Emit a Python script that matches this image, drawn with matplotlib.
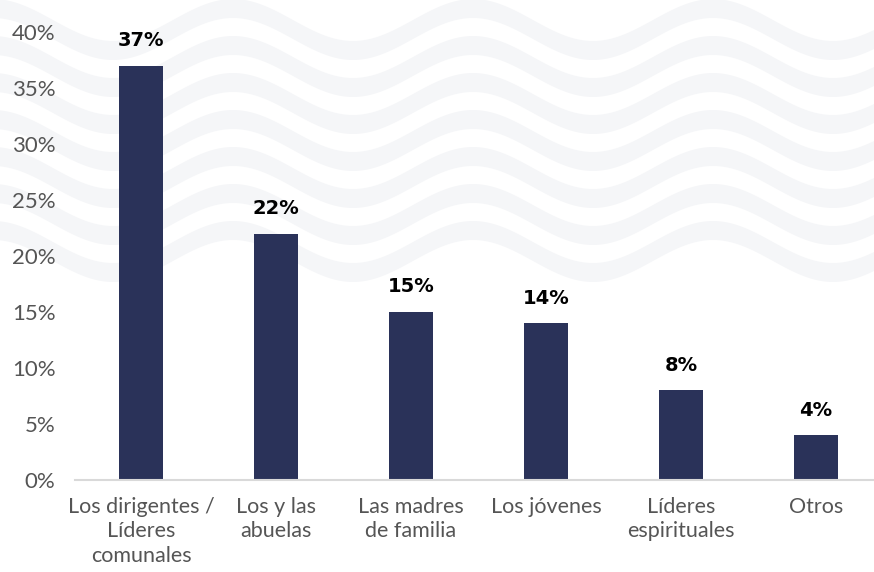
import numpy as np
import matplotlib.pyplot as plt

categorias = ["Los dirigentes /\nLíderes\ncomunales", "Los y las\nabuelas", "Las madres\nde familia",
              "Los jóvenes", "Líderes\nespirituales", "Otros"]
valores = [37, 22, 15, 14, 8, 4]
yticks = [0, 5, 10, 15, 20, 25, 30, 35, 40]

W, H = 874, 572
fig = plt.figure(figsize=(W / 100, H / 100), dpi=100)
fig.patch.set_facecolor("white")

# fondo decorativo: ondas grises muy claras
bg = fig.add_axes([0, 0, 1, 1], zorder=0)
bg.set_xlim(0, W)
bg.set_ylim(H, 0)
bg.axis("off")
xs = np.linspace(0, W, 600)
onda = 21 * np.cos(2 * np.pi * (xs - 593) / 240)
for k in range(7):
    y0 = 20 + k * 37
    bg.fill_between(xs, y0 + onda, y0 + 19 + onda, color="#f5f6f8", lw=0)

ax = fig.add_axes([75 / W, 92 / H, (W - 75) / W, 448 / H], zorder=1)
ax.patch.set_alpha(0)
x = np.arange(len(valores))
ax.bar(x, valores, width=0.32, color="#2a3259", zorder=2)
for xi, v in zip(x, valores):
    ax.annotate(f"{v}%", (xi, v), xytext=(0, 18), textcoords="offset points",
                ha="center", va="center", fontsize=14, fontweight="bold",
                family="DejaVu Sans", color="black")

ax.set_xlim(-0.489, 5.43)
ax.set_ylim(0, 40)
ax.set_yticks(yticks)
ax.set_yticklabels([f"{t}%" for t in yticks], family="Lato", fontsize=16, color="#555555")
ax.set_xticks(x)
ax.set_xticklabels(categorias, family="Lato", fontsize=15.5,
                   color="#555555", linespacing=1.3)
ax.tick_params(axis="y", length=0, pad=14)
ax.tick_params(axis="x", length=0, pad=12)
for s in ["top", "right", "left"]:
    ax.spines[s].set_visible(False)
ax.spines["bottom"].set_color("#d9d9d9")
ax.spines["bottom"].set_linewidth(1.5)

fig.savefig("out.png", dpi=100)
